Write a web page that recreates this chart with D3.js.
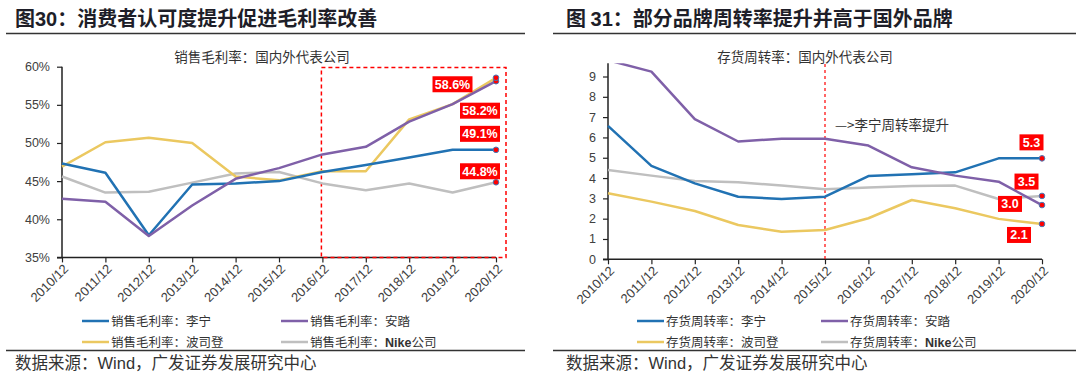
<!DOCTYPE html>
<html><head><meta charset="utf-8">
<script src="https://cdn.jsdelivr.net/npm/d3@7"></script>
<style>
body{margin:0;background:#fff;}
svg{display:block;}
</style></head>
<body>
<svg id="c" width="1080" height="375"></svg>
<script>
// ---------- data ----------
const years = ["2010/12","2011/12","2012/12","2013/12","2014/12","2015/12","2016/12","2017/12","2018/12","2019/12","2020/12"];

// 销售毛利率 (%)
const gmLining   = [47.3,46.1,37.9,44.55,44.7,45.0,46.2,47.1,48.1,49.1,49.1];
const gmAnta     = [42.7,42.3,37.8,41.8,45.3,46.7,48.5,49.5,52.8,55.1,58.1];
const gmBosideng = [46.9,50.1,50.7,50.0,45.6,45.1,46.3,46.3,53.1,55.1,58.55];
const gmNike     = [45.6,43.5,43.6,44.8,46.0,46.2,44.7,43.8,44.7,43.5,44.85];
const gmTicks    = [35,40,45,50,55,60];
const gmLabels   = ["49.1%","58.2%","58.6%","44.8%"]; // 李宁, 安踏, 波司登, Nike

// 存货周转率
const itLining   = [6.57,4.6,3.74,3.08,2.97,3.08,4.1,4.19,4.28,4.97,4.97];
const itAnta     = [9.8,9.24,6.9,5.8,5.94,5.94,5.6,4.53,4.12,3.82,2.67];
const itBosideng = [3.25,2.84,2.38,1.69,1.36,1.44,2.02,2.92,2.51,1.99,1.74];
const itNike     = [4.4,4.12,3.86,3.79,3.63,3.45,3.53,3.61,3.63,2.97,3.12];
const itTicks    = [0,1,2,3,4,5,6,7,8,9];
const itLabels   = ["5.3","3.5","2.1","3.0"]; // 李宁, 安踏, 波司登, Nike

const brandNames = ["李宁","安踏","波司登","Nike公司"];
const colors = ["#2172B3","#7F60A8","#EBC860","#BFBFBF"];

// ---------- layout ----------
const svg = d3.select("#c");
const CJK = "'Noto Sans CJK SC','Liberation Sans',sans-serif";
const LAT = "'Liberation Sans',Arial,sans-serif";

function panel(o){
  const g = svg.append("g");
  // title
  const t = g.append("text").attr("x",o.titleX).attr("y",26)
    .attr("font-family",CJK).attr("font-weight","bold").attr("font-size",20).attr("fill","#1e1e28");
  t.append("tspan").text(o.titlePre);
  t.append("tspan").attr("font-family",LAT).text(o.titleNum);
  t.append("tspan").text(o.titlePost);
  g.append("line").attr("x1",o.rule[0]).attr("x2",o.rule[1]).attr("y1",33.5).attr("y2",33.5)
    .attr("stroke","#333").attr("stroke-width",1.3);
  g.append("line").attr("x1",o.rule[0]).attr("x2",o.rule[1]).attr("y1",350.5).attr("y2",350.5)
    .attr("stroke","#333").attr("stroke-width",1.3);
  // subtitle
  g.append("text").attr("x",o.subX).attr("y",62).attr("text-anchor","middle")
    .attr("font-family",CJK).attr("font-size",13.5).attr("fill","#333").text(o.subtitle);

  const x = d3.scalePoint().domain(years).range(o.xr);
  const y = d3.scaleLinear().domain(o.yd).range(o.yr);

  // y axis
  const ya = g.append("g").attr("transform",`translate(${o.xr[0]},0)`)
    .call(d3.axisLeft(y).tickValues(o.ticks).tickSize(5).tickPadding(7).tickFormat(o.fmt));
  ya.select(".domain").attr("stroke","#222").attr("stroke-width",1.5).attr("d",`M-5,${o.yr[0]}H0V${o.yr[1]}`);
  ya.selectAll(".tick line").attr("stroke","#222").attr("stroke-width",1.2);
  ya.selectAll("text").attr("font-family",LAT).attr("font-size",12.5).attr("fill","#404040");

  // x axis
  const xa = g.append("g").attr("transform",`translate(0,${o.yr[0]})`)
    .call(d3.axisBottom(x).tickSize(5).tickFormat(""));
  xa.select(".domain").attr("stroke","#222").attr("stroke-width",1.5).attr("d",`M${o.xr[0]},0H${o.xr[1]}`);
  xa.selectAll(".tick line").attr("stroke","#222").attr("stroke-width",1.2);
  g.append("g").selectAll("text").data(years).join("text")
    .attr("transform",d=>`translate(${x(d)+4},${o.yr[0]+9}) rotate(-45)`)
    .attr("text-anchor","end").attr("dy","0.35em")
    .attr("font-family",LAT).attr("font-size",13).attr("fill","#404040").text(d=>d);

  // red highlight
  o.highlight(g,x,y);

  // clip
  const cid = "clip"+o.id;
  svg.append("clipPath").attr("id",cid).append("rect")
    .attr("x",o.xr[0]-5).attr("y",o.yr[1]).attr("width",o.xr[1]-o.xr[0]+20).attr("height",o.yr[0]-o.yr[1]);
  const line = d3.line().x((d,i)=>x(years[i])).y(d=>y(d));
  const lg = g.append("g").attr("clip-path",`url(#${cid})`);
  const order = [3,2,0,1];
  order.forEach(k=>{
    lg.append("path").datum(o.series[k]).attr("d",line)
      .attr("fill","none").attr("stroke",colors[k]).attr("stroke-width",2.5).attr("stroke-linejoin","round");
  });
  // end markers
  o.series.forEach((s,k)=>{
    g.append("circle").attr("cx",x(years[years.length-1])).attr("cy",y(s[s.length-1])).attr("r",2.8)
      .attr("fill","#f00").attr("stroke","#4a79b8").attr("stroke-width",1);
  });
  // data labels
  o.series.forEach((s,k)=>{
    const cx = x(years[years.length-1]) + o.lab[k][0];
    const cy = y(s[s.length-1]) + o.lab[k][1];
    const w = o.labW, h = 16;
    g.append("rect").attr("x",cx-w/2).attr("y",cy-h/2).attr("width",w).attr("height",h).attr("fill","#FF0000");
    g.append("text").attr("x",cx).attr("y",cy).attr("dy","0.36em").attr("text-anchor","middle")
      .attr("font-family",LAT).attr("font-weight","bold").attr("font-size",12.5).attr("fill","#fff").text(o.labels[k]);
  });

  // legend
  brandNames.forEach((b,k)=>{
    const col = k%2, row = Math.floor(k/2);
    const lx = o.legX[col], ly = [321,342][row];
    g.append("line").attr("x1",lx).attr("x2",lx+27).attr("y1",ly).attr("y2",ly)
      .attr("stroke",colors[k]).attr("stroke-width",2.5);
    const tt = g.append("text").attr("x",lx+29).attr("y",ly).attr("dy","0.36em")
      .attr("font-family",CJK).attr("font-size",12.5).attr("fill","#333");
    tt.append("tspan").text(o.legPre);
    if(b.startsWith("Nike")){
      tt.append("tspan").attr("font-family",LAT).attr("font-weight","bold").text("Nike");
      tt.append("tspan").text("公司");
    } else tt.append("tspan").text(b);
  });
  // source
  const st = g.append("text").attr("x",o.titleX).attr("y",369)
    .attr("font-family",CJK).attr("font-size",16.5).attr("fill","#333");
  st.append("tspan").text("数据来源：");
  st.append("tspan").attr("font-family",LAT).text("Wind");
  st.append("tspan").text("，广发证券发展研究中心");
}

panel({
  id:"L", titleX:15, titlePre:"图", titleNum:"30", titlePost:"：消费者认可度提升促进毛利率改善",
  rule:[6,525], subX:262, subtitle:"销售毛利率：国内外代表公司",
  xr:[62,496], yd:[35,60], yr:[257.4,66.7], ticks:gmTicks, fmt:d=>d+"%",
  series:[gmLining,gmAnta,gmBosideng,gmNike], labels:gmLabels, labW:40,
  lab:[[-16,-16],[-16,29.5],[-43.5,6.5],[-16,-11]],
  legX:[82,281], legPre:"销售毛利率：",
  highlight:(g,x,y)=>{
    g.append("rect").attr("x",x("2016/12")-1).attr("y",67.5).attr("width",x("2020/12")-x("2016/12")+11)
      .attr("height",257.4-67.5).attr("fill","none").attr("stroke","#FF0000").attr("stroke-width",1.5)
      .attr("stroke-dasharray","4,3");
  }
});

panel({
  id:"R", titleX:566, titlePre:"图 ", titleNum:"31", titlePost:"：部分品牌周转率提升并高于国外品牌",
  rule:[553,1076], subX:805, subtitle:"存货周转率：国内外代表公司",
  xr:[608,1042], yd:[0,9.65], yr:[259.3,63.3], ticks:itTicks, fmt:d=>d,
  series:[itLining,itAnta,itBosideng,itNike], labels:itLabels, labW:24,
  lab:[[-10.5,-16],[-15.5,-23.5],[-23,11],[-32,8]],
  legX:[637,821], legPre:"存货周转率：",
  highlight:(g,x,y)=>{
    g.append("line").attr("x1",x("2015/12")).attr("x2",x("2015/12")).attr("y1",64).attr("y2",259.3)
      .attr("stroke","#FF0000").attr("stroke-width",1.2).attr("stroke-dasharray","3,3");
    g.append("text").attr("x",835).attr("y",125).attr("dy","0.36em")
      .attr("font-family",CJK).attr("font-size",13.5).attr("fill","#333").text("—>李宁周转率提升");
  }
});
</script>
</body></html>
